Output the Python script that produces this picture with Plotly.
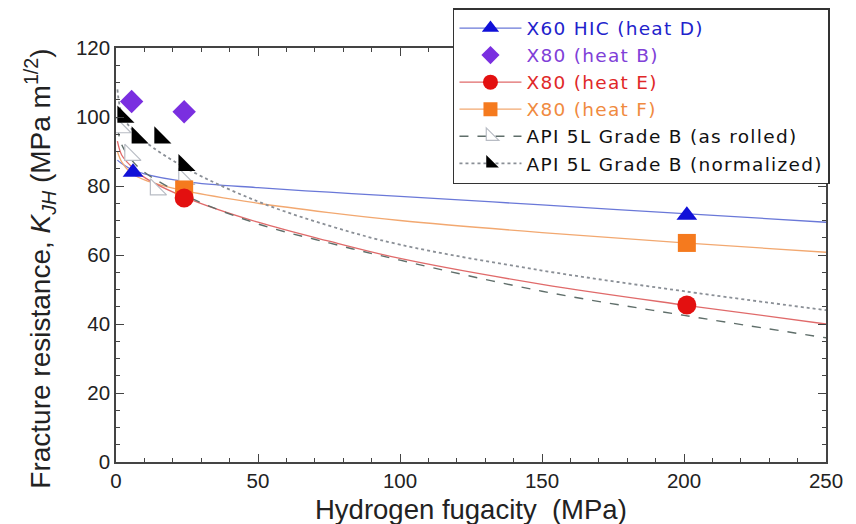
import plotly.graph_objects as go

# ---- data ----
fit_x = [0.5, 2, 5, 10, 25, 50, 75, 100, 150, 200, 250]
fit_heatD = [87.5, 86.5, 85.0, 83.5, 81.2, 79.5, 78.2, 77.0, 74.5, 72.0, 69.5]
fit_heatF = [90.0, 87.0, 84.0, 81.8, 78.5, 75.0, 72.3, 70.0, 66.5, 63.5, 60.8]
fit_heatE = [93.0, 89.0, 86.0, 82.5, 76.5, 69.5, 64.0, 59.0, 51.5, 45.5, 40.0]
fit_rolled = [97.0, 92.0, 88.0, 84.0, 77.0, 69.0, 63.5, 58.5, 49.5, 42.5, 36.0]
fit_norm = [108.0, 101.0, 97.0, 93.0, 85.0, 75.5, 68.5, 63.0, 55.5, 49.5, 44.0]

heatD_x = [6, 201]
heatD_y = [84, 71.5]
heatB_x = [5.5, 24]
heatB_y = [104.5, 101.5]
heatE_x = [24, 201]
heatE_y = [76.5, 45.5]
heatF_x = [24, 201]
heatF_y = [79, 63.5]
rolled_x = [1.5, 5, 14, 24]
rolled_y = [97, 89, 79, 82]
norm_x = [2.5, 7.5, 15.5, 24]
norm_y = [100, 94, 94, 86]

x_title = "Hydrogen fugacity  (MPa)"
y_title = "Fracture resistance, <i>K</i><sub><i>JH</i></sub> (MPa m<sup>1/2</sup>)"

C_BLUE = "#1010d8"
C_BLUE_LINE = "#6a78d8"
C_PURPLE = "#7a2fe0"
C_RED = "#e31010"
C_RED_LINE = "#e06a6a"
C_ORANGE = "#f57a1e"
C_ORANGE_LINE = "#f2a870"
C_DASH = "#5f6e6a"
C_DOT = "#8a8f96"

fig = go.Figure()

def fit_line(y, color, dash="solid", width=1.3):
    fig.add_trace(go.Scatter(x=fit_x, y=y, mode="lines", showlegend=False,
                             line=dict(color=color, width=width, dash=dash, shape="spline")))

fit_line(fit_heatD, C_BLUE_LINE)
fit_line(fit_heatF, C_ORANGE_LINE)
fit_line(fit_heatE, C_RED_LINE)
fit_line(fit_rolled, C_DASH, dash="dash", width=1.4)
fit_line(fit_norm, C_DOT, dash="dot", width=1.8)

def pts(x, y, symbol, color, size=14, lc=None, lw=0):
    fig.add_trace(go.Scatter(x=x, y=y, mode="markers", showlegend=False,
                             marker=dict(symbol=symbol, size=size, color=color,
                                         line=dict(color=lc or color, width=lw))))

pts(rolled_x, rolled_y, "triangle-sw", "#ffffff", 18, "#b8bcc4", 1.2)
pts(norm_x, norm_y, "triangle-sw", "#000000", 19)
pts(heatB_x, heatB_y, "diamond", C_PURPLE, 18)
pts(heatF_x, heatF_y, "square", C_ORANGE, 18)
pts(heatE_x, heatE_y, "circle", C_RED, 19)
pts(heatD_x, heatD_y, "triangle-up", C_BLUE, 18)

# legend-only entries
def leg(name, color_txt, mode, line, marker):
    fig.add_trace(go.Scatter(x=[None], y=[None], mode=mode,
                             name=f"<span style='color:{color_txt};letter-spacing:1.3px'>{name}</span>",
                             line=line, marker=marker))

leg("X60 HIC (heat D)", "#2222cc", "lines+markers", dict(color=C_BLUE_LINE, width=1.3),
    dict(symbol="triangle-up", size=15, color=C_BLUE))
leg("X80 (heat B)", "#8040d8", "markers", None,
    dict(symbol="diamond", size=14, color=C_PURPLE))
leg("X80 (heat E)", "#e02828", "lines+markers", dict(color=C_RED_LINE, width=1.3),
    dict(symbol="circle", size=15, color=C_RED))
leg("X80 (heat F)", "#f08a40", "lines+markers", dict(color=C_ORANGE_LINE, width=1.3),
    dict(symbol="square", size=14, color=C_ORANGE))
leg("API 5L Grade B (as rolled)", "#111111", "lines+markers", dict(color=C_DASH, width=1.4, dash="dash"),
    dict(symbol="triangle-sw", size=14, color="#ffffff", line=dict(color="#b8bcc4", width=1.2)))
leg("API 5L Grade B (normalized)", "#111111", "lines+markers", dict(color=C_DOT, width=1.8, dash="dot"),
    dict(symbol="triangle-sw", size=14, color="#000000"))

axis_common = dict(showline=True, linecolor="#444444", linewidth=1.5, mirror="ticks",
                   ticks="inside", ticklen=8, tickwidth=1.3, tickcolor="#444444",
                   showgrid=False, zeroline=False, automargin=False,
                   tickfont=dict(size=20.5, color="#222222"))

fig.update_layout(
    # page body adds an 8px offset; figure sized so the plot area lands like the reference
    width=848, height=516,
    margin=dict(l=108, r=30, t=40, b=62, autoexpand=False),
    paper_bgcolor="white", plot_bgcolor="white",
    font=dict(family="Liberation Sans, Arial, sans-serif", color="#222222"),
    xaxis=dict(range=[0, 250], tick0=0, dtick=50,
               minor=dict(dtick=10, ticks="inside", ticklen=4, tickcolor="#444444"),
               **axis_common),
    yaxis=dict(range=[0, 120], tick0=0, dtick=20,
               minor=dict(dtick=5, ticks="inside", ticklen=4, tickcolor="#444444"),
               **axis_common),
    legend=dict(x=0.4746, y=1.0966, xanchor="left", yanchor="top",
                bordercolor="#333333", borderwidth=1.5, bgcolor="white",
                font=dict(size=18.5, family="DejaVu Sans, sans-serif"),
                tracegroupgap=0, itemwidth=62),
    annotations=[
        dict(text=x_title, xref="paper", yref="paper", x=0.5, y=-0.114,
             xanchor="center", yanchor="middle", showarrow=False,
             font=dict(size=27.5, color="#222222")),
        dict(text=y_title, xref="paper", yref="paper", x=-0.107, y=0.467,
             xanchor="center", yanchor="middle", showarrow=False, textangle=-90,
             font=dict(size=28, color="#222222")),
    ],
)

fig.write_html("out.html")
